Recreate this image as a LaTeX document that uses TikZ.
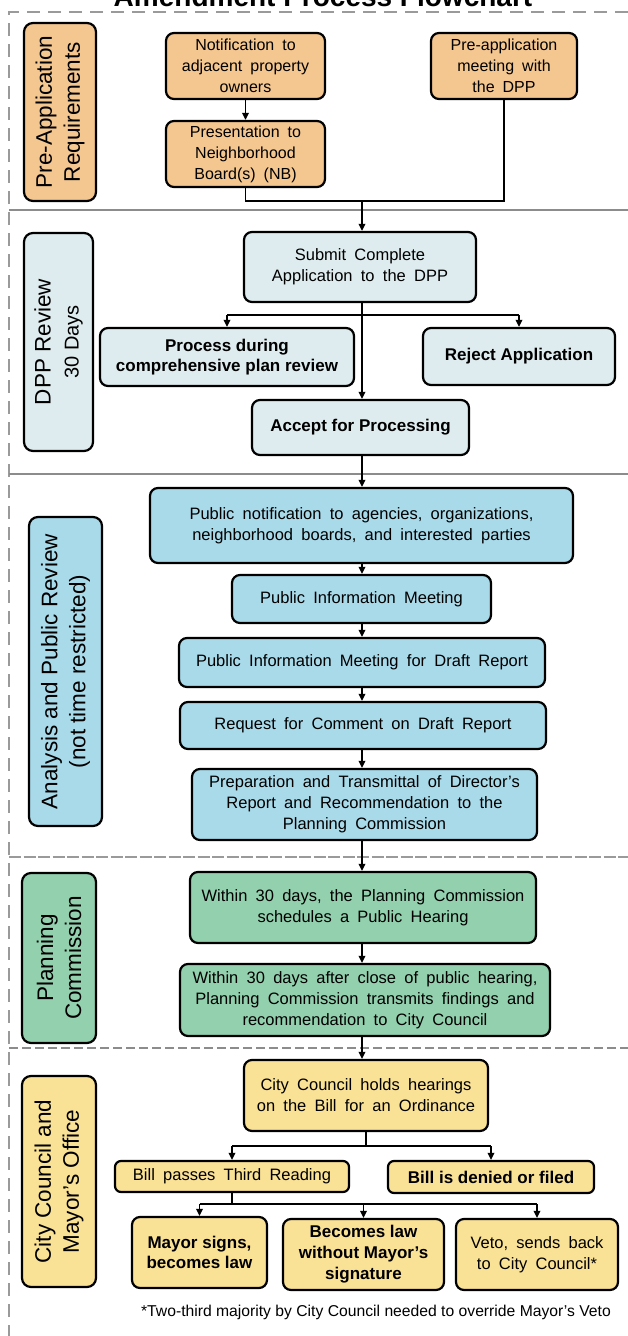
\documentclass[tikz,border=0pt]{standalone}
\usepackage{fontspec}
\setmainfont{Liberation Sans}[WordSpace=1.8]
\newfontfamily\plainf{Liberation Sans}
\usetikzlibrary{arrows.meta}
\definecolor{corange}{HTML}{F4C690}
\definecolor{cgray}{HTML}{DFECEF}
\definecolor{cblue}{HTML}{A9DAEA}
\definecolor{cgreen}{HTML}{92D0AE}
\definecolor{cyellow}{HTML}{F9E196}
\definecolor{cline}{HTML}{8C8C8C}
\definecolor{cdash}{HTML}{9A9A9A}
\begin{document}
\begin{tikzpicture}[x=1pt,y=-1pt,
 box/.style={draw=black, line width=2.2pt, rounded corners=8pt, align=center, inner sep=2pt, font=\fontsize{16.5}{21}\selectfont},
 bbox/.style={box, font=\plainf\bfseries\fontsize{17}{20.5}\selectfont},
 topbox/.style={box, fill=corange, font=\fontsize{16}{21}\selectfont},
 lane/.style={draw=black, line width=2.2pt, rounded corners=9pt, rotate=90, align=center, inner sep=2pt, font=\plainf\fontsize{22.5}{28}\selectfont},
 arr/.style={line width=1.7pt, -{Triangle[length=7pt,width=6.5pt]}},
 ln/.style={line width=1.7pt},
 sep/.style={draw=cline, line width=1.8pt},
 border/.style={draw=cdash, line width=2pt, dash pattern=on 13pt off 8pt},
]
\useasboundingbox (0,0) rectangle (628,1336);
% title and border
\node[font=\plainf\bfseries\fontsize{28}{30}\selectfont, anchor=base] (title) at (323,6) {Amendment Process Flowchart};
\draw[border] (628,12) -- (9,12) -- (9,1336);
% separators
\draw[sep] (9,210) -- (628,210);
\draw[sep] (9,474) -- (628,474);
\draw[draw=cdash, line width=1.8pt, dash pattern=on 12pt off 2.5pt] (9,857) -- (628,857);
\draw[draw=cline, line width=2.4pt, dash pattern=on 9pt off 4pt] (9,1048) -- (628,1048);
% lane labels
\node[lane, fill=corange, minimum width=178pt, minimum height=72pt] (l1) at (60,112) {Pre-Application\\Requirements};
\node[lane, fill=cgray, minimum width=218pt, minimum height=69pt] (l2) at (58.5,342) {DPP Review\\{\fontsize{20}{24}\selectfont 30 Days}};
\node[lane, fill=cblue, minimum width=309pt, minimum height=73pt] (l3) at (65.5,671.5) {Analysis and Public Review\\(not time restricted)};
\node[lane, fill=cgreen, minimum width=170pt, minimum height=74pt] (l4) at (59,958) {Planning\\Commission};
\node[lane, fill=cyellow, minimum width=211pt, minimum height=74pt] (l5) at (59,1181.5) {City Council and\\Mayor’s Office};
% pre-application
\node[topbox, minimum width=159pt, minimum height=66pt] (notif) at (245.5,66) {Notification to\\adjacent property\\owners};
\node[topbox, minimum width=146pt, minimum height=66pt] (preapp) at (504,66) {Pre-application\\meeting with\\the DPP};
\node[topbox, minimum width=159pt, minimum height=66pt] (pres) at (245.5,154) {Presentation to\\Neighborhood\\Board(s) (NB)};
% DPP review
\node[box, fill=cgray, minimum width=232pt, minimum height=70pt] (submit) at (360,267) {Submit Complete\\Application to the DPP};
\node[bbox, fill=cgray, minimum width=254pt, minimum height=58pt] (process) at (227,357) {Process during\\comprehensive plan review};
\node[bbox, fill=cgray, minimum width=192pt, minimum height=57pt] (reject) at (519,356.5) {Reject Application};
\node[bbox, fill=cgray, minimum width=217pt, minimum height=55pt] (accept) at (360.5,427.5) {Accept for Processing};
% analysis
\node[box, fill=cblue, minimum width=423pt, minimum height=75pt] (pubnot) at (361.5,525.5) {Public notification to agencies, organizations,\\neighborhood boards, and interested parties};
\node[box, fill=cblue, minimum width=259pt, minimum height=48pt] (pim) at (361.5,599) {Public Information Meeting};
\node[box, fill=cblue, minimum width=366pt, minimum height=49pt] (pimd) at (362,662.5) {Public Information Meeting for Draft Report};
\node[box, fill=cblue, minimum width=366pt, minimum height=47pt] (req) at (363,725.5) {Request for Comment on Draft Report};
\node[box, fill=cblue, minimum width=345pt, minimum height=71pt] (prep) at (364.5,804.5) {Preparation and Transmittal of Director’s\\Report and Recommendation to the\\Planning Commission};
% planning commission
\node[box, fill=cgreen, minimum width=346pt, minimum height=71pt] (w30) at (363,907.5) {Within 30 days, the Planning Commission\\schedules a Public Hearing};
\node[box, fill=cgreen, minimum width=370pt, minimum height=72pt] (w30b) at (365,1000) {Within 30 days after close of public hearing,\\Planning Commission transmits findings and\\recommendation to City Council};
% city council
\node[box, fill=cyellow, minimum width=244pt, minimum height=71pt] (cc) at (366,1095.5) {City Council holds hearings\\on the Bill for an Ordinance};
\node[box, fill=cyellow, minimum width=234pt, minimum height=31pt, rounded corners=6pt] (pass) at (232,1176.5) {Bill passes Third Reading};
\node[bbox, fill=cyellow, minimum width=206pt, minimum height=32pt, rounded corners=6pt] (denied) at (491,1177) {Bill is denied or filed};
\node[bbox, fill=cyellow, minimum width=135pt, minimum height=71pt] (mayor) at (199.5,1252.5) {Mayor signs,\\becomes law};
\node[bbox, fill=cyellow, minimum width=161pt, minimum height=71pt, font=\plainf\bfseries\fontsize{17}{21}\selectfont] (becomes) at (363.5,1254.5) {Becomes law\\without Mayor’s\\signature};
\node[box, fill=cyellow, minimum width=162pt, minimum height=71pt] (veto) at (537,1254.5) {Veto, sends back\\to City Council*};
\node[font=\plainf\fontsize{15.7}{19}\selectfont] (note) at (376,1312) {*Two-third majority by City Council needed to override Mayor’s Veto};
% connectors: pre-application
\draw[arr] (notif.south) -- (pres.north);
\coordinate (j1) at (362,201);
\draw[ln] (pres.south) |- (j1);
\draw[ln] (preapp.south) |- (j1);
\draw[arr] (j1) -- (j1 |- submit.north);
% DPP review
\draw[arr] (submit.south -| j1) -- (accept.north -| j1);
\coordinate (bl) at (227,315);
\coordinate (br) at (519,315);
\draw[ln] (bl) -- (br);
\draw[arr] (bl) -- (bl |- process.north);
\draw[arr] (br) -- (br |- reject.north);
% analysis chain
\draw[arr] (accept.south -| j1) -- (pubnot.north -| j1);
\draw[arr] (pubnot.south -| j1) -- (pim.north -| j1);
\draw[arr] (pim.south -| j1) -- (pimd.north -| j1);
\draw[arr] (pimd.south -| j1) -- (req.north -| j1);
\draw[arr] (req.south -| j1) -- (prep.north -| j1);
\draw[arr] (prep.south -| j1) -- (w30.north -| j1);
\draw[arr] (w30.south -| j1) -- (w30b.north -| j1);
\draw[arr] (w30b.south -| j1) -- (cc.north -| j1);
% city council branches
\coordinate (k0) at (366,1146);
\coordinate (kl) at (232,1146);
\coordinate (kr) at (491,1146);
\draw[ln] (cc.south) -- (k0);
\draw[ln] (kl) -- (kr);
\draw[arr] (kl) -- (kl |- pass.north);
\draw[arr] (kr) -- (kr |- denied.north);
\coordinate (m0) at (232,1204);
\coordinate (ml) at (199.5,1204);
\coordinate (mm) at (363.5,1204);
\coordinate (mr) at (537,1204);
\draw[ln] (pass.south) -- (m0);
\draw[ln] (ml) -- (mr);
\draw[arr] (ml) -- (ml |- mayor.north);
\draw[arr] (mm) -- (mm |- becomes.north);
\draw[arr] (mr) -- (mr |- veto.north);
\end{tikzpicture}
\end{document}
